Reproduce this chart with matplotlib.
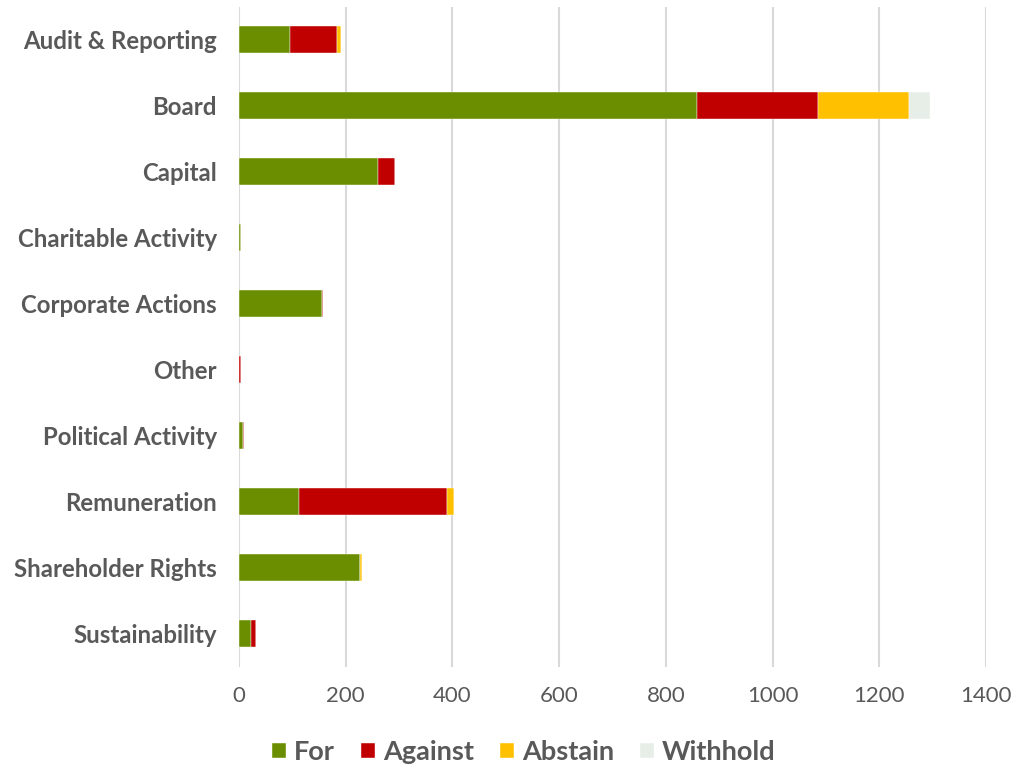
import matplotlib.pyplot as plt
import numpy as np

# Datos
categories = ['Audit & Reporting', 'Board', 'Capital', 'Charitable Activity',
              'Corporate Actions', 'Other', 'Political Activity', 'Remuneration',
              'Shareholder Rights', 'Sustainability']
vote_for = [95, 858, 260, 4, 155, 0, 7, 112, 226, 22]
vote_against = [88, 227, 32, 0, 3, 3, 3, 277, 0, 9]
vote_abstain = [8, 171, 0, 0, 0, 0, 0, 14, 5, 1]
vote_withhold = [0, 39, 0, 0, 0, 0, 0, 0, 0, 0]

series = [('For', vote_for, '#6B8E00'),
          ('Against', vote_against, '#C00000'),
          ('Abstain', vote_abstain, '#FFC000'),
          ('Withhold', vote_withhold, '#E7EEE7')]

plt.rcParams['font.family'] = ['Lato', 'DejaVu Sans']
grey = '#595959'

fig = plt.figure(figsize=(10.15, 7.64), dpi=100)
ax = fig.add_axes([0.2355, 0.127, 0.7359, 0.864])

y = np.arange(len(categories))
left = np.zeros(len(categories))
for name, vals, color in series:
    vals = np.array(vals, dtype=float)
    ax.barh(y, vals, left=left, height=0.41, color=color, label=name,
            edgecolor='white', linewidth=0.3, zorder=3)
    left += vals

ax.set_xlim(0, 1400)
ax.set_ylim(len(categories) - 0.5, -0.5)
ax.set_xticks(range(0, 1401, 200))
ax.set_yticks(y)
ax.set_yticklabels(categories, fontsize=17.3, fontweight='bold', color=grey)
ax.tick_params(axis='x', labelsize=16, colors=grey, length=0, pad=14)
ax.tick_params(axis='y', length=0, pad=16)
ax.grid(axis='x', color='#D9D9D9', linewidth=1.5, zorder=0)
for s in ax.spines.values():
    s.set_visible(False)

leg = fig.legend(loc='lower center', bbox_to_anchor=(0.516, -0.032), ncol=4,
                 frameon=False, handlelength=0.52, handleheight=0.52,
                 handletextpad=0.3, columnspacing=0.95,
                 prop={'size': 19.5, 'weight': 'bold'})
for t in leg.get_texts():
    t.set_color(grey)

plt.savefig('out.png', dpi=100)
